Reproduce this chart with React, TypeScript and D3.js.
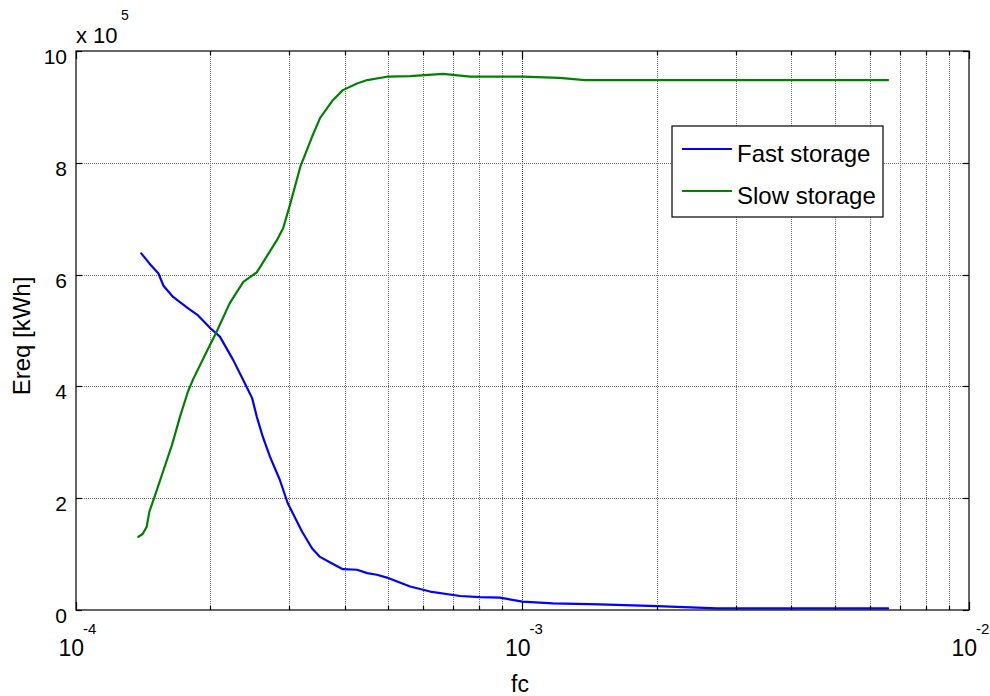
import React from "react";
import * as d3 from "d3";

const W = 990;
const H = 696;

// Cut-off frequency fc and required energy Ereq [kWh] for each storage type
const fcFast = [
  1.40e-4, 1.46e-4, 1.53e-4, 1.57e-4, 1.65e-4, 1.78e-4, 1.87e-4, 2.00e-4, 2.10e-4, 2.25e-4,
  2.37e-4, 2.48e-4, 2.54e-4, 2.62e-4, 2.72e-4, 2.86e-4, 2.98e-4, 3.21e-4, 3.38e-4, 3.52e-4,
  3.71e-4, 3.96e-4, 4.26e-4, 4.49e-4, 4.72e-4, 4.97e-4, 5.24e-4, 5.60e-4, 6.21e-4, 7.25e-4,
  8.03e-4, 8.90e-4, 1.00e-3, 1.17e-3, 1.49e-3, 2.00e-3, 2.73e-3, 6.59e-3,
];
const ereqFast = [
  6.38e5, 6.20e5, 6.02e5, 5.80e5, 5.60e5, 5.40e5, 5.28e5, 5.04e5, 4.89e5, 4.47e5,
  4.11e5, 3.79e5, 3.46e5, 3.10e5, 2.74e5, 2.33e5, 1.91e5, 1.40e5, 1.10e5, 0.95e5,
  0.85e5, 0.73e5, 0.72e5, 0.66e5, 0.63e5, 0.58e5, 0.51e5, 0.42e5, 0.33e5, 0.25e5,
  0.23e5, 0.22e5, 0.15e5, 0.12e5, 0.10e5, 0.07e5, 0.03e5, 0.03e5,
];
const fcSlow = [
  1.38e-4, 1.41e-4, 1.44e-4, 1.46e-4, 1.50e-4, 1.57e-4, 1.64e-4, 1.71e-4, 1.78e-4, 1.83e-4,
  1.97e-4, 2.06e-4, 2.21e-4, 2.37e-4, 2.54e-4, 2.82e-4, 2.91e-4, 3.02e-4, 3.18e-4, 3.38e-4,
  3.52e-4, 3.76e-4, 3.96e-4, 4.26e-4, 4.49e-4, 4.97e-4, 5.60e-4, 6.64e-4, 7.63e-4, 1.00e-3,
  1.21e-3, 1.38e-3, 6.59e-3,
];
const ereqSlow = [
  1.31e5, 1.36e5, 1.49e5, 1.76e5, 2.03e5, 2.50e5, 2.95e5, 3.46e5, 3.90e5, 4.13e5,
  4.65e5, 4.96e5, 5.49e5, 5.87e5, 6.04e5, 6.62e5, 6.83e5, 7.27e5, 7.93e5, 8.47e5,
  8.80e5, 9.12e5, 9.30e5, 9.42e5, 9.48e5, 9.54e5, 9.55e5, 9.59e5, 9.54e5, 9.54e5,
  9.52e5, 9.48e5, 9.48e5,
];

const seriesNames = ["Fast storage", "Slow storage"];
const seriesColors = ["#0000ff", "#008000"];
const xDecades = [-4, -3, -2];
const yTicks = [0, 2e5, 4e5, 6e5, 8e5, 10e5];
const yExponent = 5;

const FONT = "'Liberation Sans', Arial, Helvetica, sans-serif";

export default function App() {
  const left = 76;
  const right = 969;
  const top = 51;
  const bottom = 610;

  const x = d3.scaleLog().domain([1e-4, 1e-2]).range([left, right]);
  const y = d3.scaleLinear().domain([0, 1e6]).range([bottom, top]);

  const allXTicks = x.ticks();
  const isMajor = (v: number) => Math.abs(Math.log10(v) - Math.round(Math.log10(v))) < 1e-9;
  const innerXTicks = allXTicks.filter((v) => x(v) > left + 0.5 && x(v) < right - 0.5);

  const line = d3
    .line<[number, number]>()
    .x((d) => x(d[0]))
    .y((d) => y(d[1]));

  const series = [
    { name: seriesNames[0], color: seriesColors[0], pts: fcFast.map((f, i) => [f, ereqFast[i]] as [number, number]) },
    { name: seriesNames[1], color: seriesColors[1], pts: fcSlow.map((f, i) => [f, ereqSlow[i]] as [number, number]) },
  ];

  const legend = { x: 672, y: 126, w: 211, h: 91 };

  return (
    <svg
      width={W}
      height={H}
      viewBox={`0 0 ${W} ${H}`}
      style={{ position: "absolute", left: 0, top: 0, background: "#fff" }}
      fontFamily={FONT}
    >
      <rect x={0} y={0} width={W} height={H} fill="#fff" />

      {/* grid */}
      <g strokeWidth={1} strokeDasharray="1 1" fill="none">
        {innerXTicks.map((v, i) => (
          <line
            key={`gx${i}`}
            x1={Math.round(x(v)) + 0.5}
            x2={Math.round(x(v)) + 0.5}
            y1={top}
            y2={bottom}
            stroke={isMajor(v) ? "#303030" : "#6a6a6a"}
          />
        ))}
        {yTicks.slice(1, -1).map((v, i) => (
          <line
            key={`gy${i}`}
            x1={left}
            x2={right}
            y1={Math.round(y(v)) + 0.5}
            y2={Math.round(y(v)) + 0.5}
            stroke="#6a6a6a"
          />
        ))}
      </g>

      {/* curves */}
      {series.map((s) => (
        <path
          key={s.name}
          d={line(s.pts) ?? ""}
          fill="none"
          stroke={s.color}
          strokeWidth={2.2}
          strokeLinejoin="round"
          strokeLinecap="round"
        />
      ))}

      {/* axes box and inward ticks */}
      <g stroke="#000" strokeWidth={1.2} fill="none">
        <rect x={left} y={top} width={right - left} height={bottom - top} />
        {allXTicks.map((v, i) => {
          const len = isMajor(v) ? 8 : 4;
          const px = Math.round(x(v)) + 0.5;
          return (
            <g key={`tx${i}`}>
              <line x1={px} x2={px} y1={bottom} y2={bottom - len} />
              <line x1={px} x2={px} y1={top} y2={top + len} />
            </g>
          );
        })}
        {yTicks.map((v, i) => {
          const py = Math.round(y(v)) + 0.5;
          return (
            <g key={`ty${i}`}>
              <line x1={left} x2={left + 6} y1={py} y2={py} />
              <line x1={right} x2={right - 6} y1={py} y2={py} />
            </g>
          );
        })}
      </g>

      {/* y tick labels */}
      <g fontSize={21} fill="#000" textAnchor="end">
        {yTicks.map((v, i) => (
          <text key={`yl${i}`} x={67} y={y(v) + 13}>
            {d3.format("d")(v / Math.pow(10, yExponent))}
          </text>
        ))}
      </g>
      <text x={76} y={43} fontSize={22} fill="#000">
        x 10
      </text>
      <text x={121} y={20} fontSize={14} fill="#000">
        {yExponent}
      </text>

      {/* x tick labels */}
      <g fill="#000">
        {xDecades.map((d) => {
          const px = x(Math.pow(10, d));
          return (
            <g key={`xl${d}`}>
              <text x={px + 8} y={656} fontSize={23} textAnchor="end">
                10
              </text>
              <text x={px + 7} y={634} fontSize={15}>
                {`${d}`}
              </text>
            </g>
          );
        })}
      </g>

      {/* axis labels */}
      <text x={520} y={692} fontSize={23} textAnchor="middle" fill="#000">
        fc
      </text>
      <text
        transform={`translate(30, 336) rotate(-90)`}
        fontSize={24}
        textAnchor="middle"
        fill="#000"
      >
        Ereq [kWh]
      </text>

      {/* legend */}
      <g>
        <rect x={legend.x} y={legend.y} width={legend.w} height={legend.h} fill="#fff" stroke="#000" strokeWidth={1.2} />
        {series.map((s, i) => {
          const ly = i === 0 ? 149 : 191;
          return (
            <g key={`lg${i}`}>
              <line x1={682} x2={732} y1={ly} y2={ly} stroke={s.color} strokeWidth={2.2} />
              <text x={737} y={ly + 13} fontSize={24} fill="#000">
                {s.name}
              </text>
            </g>
          );
        })}
      </g>
    </svg>
  );
}
